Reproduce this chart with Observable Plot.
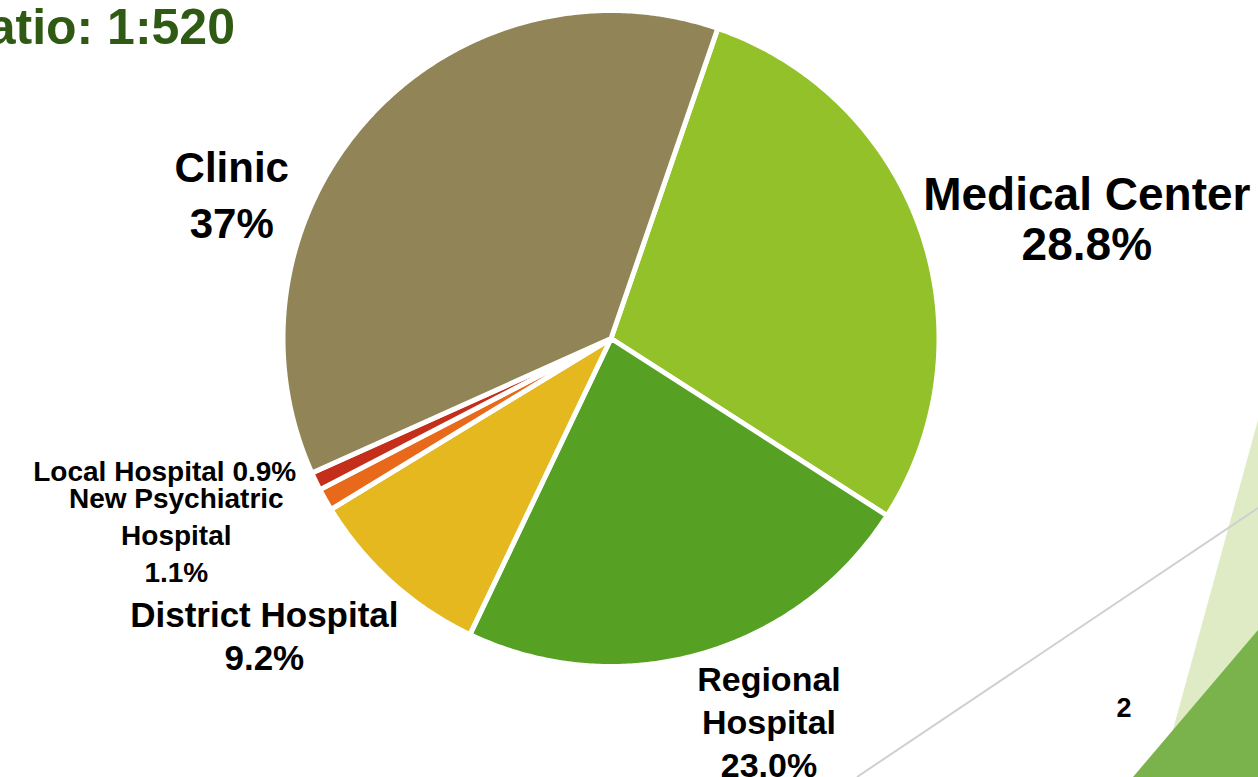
<!DOCTYPE html>
<html>
<head>
<meta charset="utf-8">
<script src="https://cdn.jsdelivr.net/npm/d3@7"></script>
<script src="https://cdn.jsdelivr.net/npm/@observablehq/plot@0.6"></script>
<style>
html,body{margin:0;padding:0;background:#fff;overflow:hidden}
#wrap{position:relative;width:1258px;height:777px;overflow:hidden;background:#fff}
#deco,#chart{position:absolute;left:0;top:0}
</style>
</head>
<body>
<div id="wrap">
<svg id="deco" width="1258" height="777" xmlns="http://www.w3.org/2000/svg">
  <polygon points="1258,420 1160,777 1258,777" fill="#DEEBC5"/>
  <polygon points="1258,630 1133,777 1258,777" fill="#7AB34B"/>
  <line x1="1258" y1="508" x2="857" y2="777" stroke="#D0D0D0" stroke-width="2"/>
  <text x="235" y="44" text-anchor="end" font-family="Liberation Sans" font-weight="bold" font-size="50" fill="#2F5A13">Ratio: 1:520</text>
  <text x="1124" y="717" text-anchor="middle" font-family="Liberation Sans" font-weight="bold" font-size="27" fill="#000">2</text>
</svg>
<div id="chart"></div>
</div>
<script>
// ---- data ----
const categories = ["Medical Center", "Regional Hospital", "District Hospital", "New Psychiatric Hospital", "Local Hospital", "Clinic"];
const shares = [28.8, 23.0, 9.2, 1.1, 0.9, 37];
const shareLabels = ["28.8%", "23.0%", "9.2%", "1.1%", "0.9%", "37%"];
const labelNames = ["Medical Center", "Regional\nHospital", "District Hospital", "New Psychiatric\nHospital", "Local Hospital", "Clinic"];
const colors = ["#93C12A", "#56A024", "#E5B820", "#E8691A", "#C42F1C", "#918557"];

// ---- layout ----
const W = 1258, H = 777, cx = 610.5, cy = 338, PX = 328;
const startDeg = 19;
const labelStyle = {
  "Medical Center":           {dx: 166, dy: -12, size: 46, lh: 1.09, sep: "\n"},
  "Regional Hospital":        {dx: 68,  dy: 66,  size: 34, lh: 1.27, sep: "\n"},
  "District Hospital":        {dx: -127, dy: 53, size: 35, lh: 1.23, sep: "\n"},
  "New Psychiatric Hospital": {dx: -149, dy: 34, size: 28, lh: 1.32, sep: "\n"},
  "Local Hospital":           {dx: -151, dy: -11, size: 28, lh: 1.2, sep: " "},
  "Clinic":                   {dx: -137, dy: 75, size: 42, lh: 1.33, sep: "\n"}
};

const total = d3.sum(shares);
let acc = 0;
const slices = categories.map((name, i) => {
  const a0 = startDeg + acc / total * 360;
  acc += shares[i];
  const a1 = startDeg + acc / total * 360;
  return {name, a0, a1, mid: (a0 + a1) / 2, i};
});

const ring = [];
for (const s of slices) {
  ring.push({name: s.name, x: 0, y: 0});
  const n = Math.max(2, Math.ceil((s.a1 - s.a0) / 0.5));
  for (let k = 0; k <= n; k++) {
    const a = (s.a0 + (s.a1 - s.a0) * k / n) * Math.PI / 180;
    ring.push({name: s.name, x: Math.sin(a), y: Math.cos(a)});
  }
  ring.push({name: s.name, x: 0, y: 0});
}

const labels = slices.map(s => {
  const a = s.mid * Math.PI / 180;
  const st = labelStyle[s.name];
  return {name: s.name, x: Math.sin(a), y: Math.cos(a), text: labelNames[s.i] + st.sep + shareLabels[s.i]};
});

const chart = Plot.plot({
  width: W, height: H, margin: 0,
  style: {background: "transparent", overflow: "visible"},
  x: {domain: [-cx / PX, (W - cx) / PX], axis: null},
  y: {domain: [-(H - cy) / PX, cy / PX], axis: null},
  color: {domain: categories, range: colors},
  marks: [
    Plot.line(ring, {x: "x", y: "y", z: "name", fill: "name", stroke: "white", strokeWidth: 5, strokeLinejoin: "round", curve: "linear"}),
    ...labels.map(l => {
      const st = labelStyle[l.name];
      return Plot.text([l], {x: "x", y: "y", text: "text", dx: st.dx, dy: st.dy, fontSize: st.size, lineHeight: st.lh,
        fontWeight: "bold", fontFamily: "Liberation Sans", fill: "black", textAnchor: "middle"});
    })
  ]
});
document.getElementById("chart").appendChild(chart);
</script>
</body>
</html>
